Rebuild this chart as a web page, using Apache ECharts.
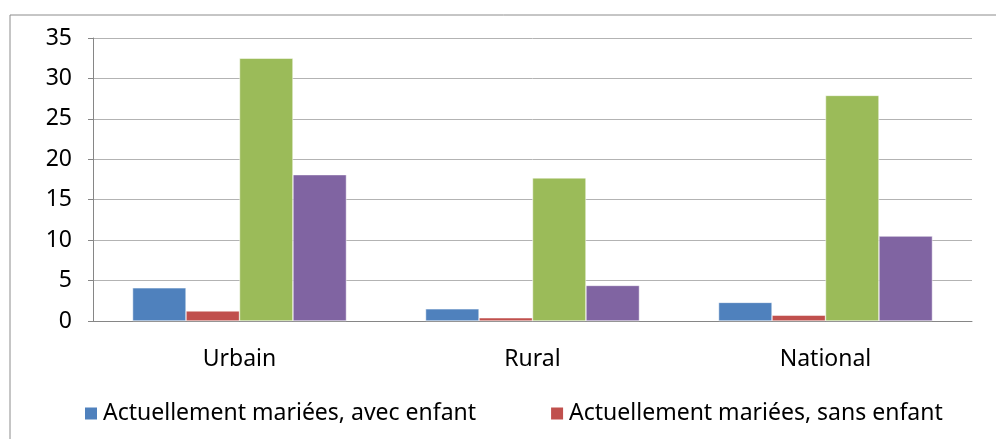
<!DOCTYPE html>
<html>
  <head>
    <title></title>
    <meta charset="UTF-8" />
    <script src="https://cdn.jsdelivr.net/npm/echarts@6/dist/echarts.min.js"></script>
    <style>
      body { margin: 0; background: #fff; }
    </style>
  </head>
  <body>
    <div id="main"></div>
    <script>
      const width = 996;
      const height = 439;
      const main = document.getElementById('main');
      main.style.width = `${width}px`;
      main.style.height = `${height}px`;

      const categories = ['Urbain', 'Rural', 'National'];
      const seriesNames = [
        'Actuellement mariées, avec enfant',
        'Actuellement mariées, sans enfant',
        'Série 3',
        'Série 4',
      ];
      const avecEnfant = [4.1, 1.5, 2.3];
      const sansEnfant = [1.25, 0.4, 0.72];
      const serie3 = [32.5, 17.7, 27.9];
      const serie4 = [18.1, 4.4, 10.5];
      const colors = ['#4f81bd', '#c0504d', '#9bbb59', '#8064a2'];
      const font = 'Noto Sans';

      const myChart = echarts.init(main);
      const mkBar = (i, data) => ({
        name: seriesNames[i],
        type: 'bar',
        data: data,
        barGap: '0%',
        barCategoryGap: '27%',
        itemStyle: { color: colors[i], borderColor: '#fff', borderWidth: 0.5 },
      });
      const option = {
        animation: false,
        graphic: [
          {
            type: 'rect',
            shape: { x: 10, y: 15, width: 1000, height: 500 },
            style: { fill: 'none', stroke: '#8c8c8c', lineWidth: 1 },
          },
        ],
        grid: { left: 93, top: 38, right: 24, bottom: 118 },
        legend: {
          data: seriesNames.slice(0, 2),
          top: 397,
          left: 78,
          itemWidth: 14,
          itemHeight: 14,
          itemGap: 73,
          icon: 'rect',
          textStyle: { fontFamily: font, fontSize: 23, color: '#000' },
        },
        xAxis: {
          type: 'category',
          data: categories,
          axisLine: { lineStyle: { color: '#868686' } },
          axisTick: { length: 6, lineStyle: { color: '#868686' } },
          axisLabel: { margin: 27, fontFamily: font, fontSize: 23, color: '#000' },
        },
        yAxis: {
          type: 'value',
          min: 0,
          max: 35,
          interval: 5,
          axisLine: { show: true, lineStyle: { color: '#868686' } },
          axisTick: { show: true, length: 5, lineStyle: { color: '#868686' } },
          axisLabel: { margin: 21, fontFamily: font, fontSize: 23, color: '#000' },
          splitLine: { lineStyle: { color: '#b3b3b3' } },
        },
        series: [
          mkBar(0, avecEnfant),
          mkBar(1, sansEnfant),
          mkBar(2, serie3),
          mkBar(3, serie4),
        ],
      };
      myChart.setOption(option);
    </script>
  </body>
</html>
